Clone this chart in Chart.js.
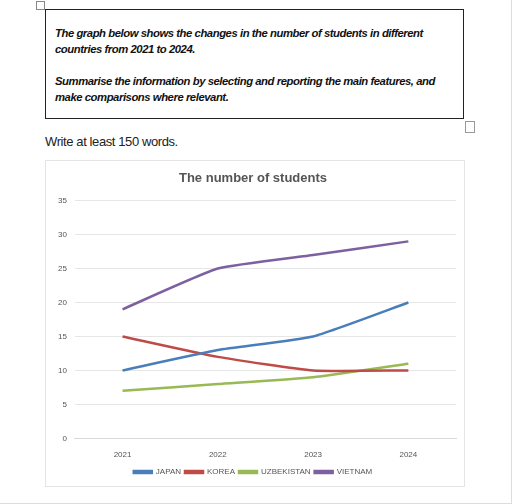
<!DOCTYPE html>
<html><head><meta charset="utf-8">
<script src="https://cdn.jsdelivr.net/npm/chart.js@4"></script>
<style>
body{margin:0;background:#fff;font-family:"Liberation Sans",Arial,sans-serif;width:512px;height:504px;position:relative;overflow:hidden}
#page{position:absolute;left:0;top:0;width:511px;height:503px;border-right:1px solid #ddd;border-bottom:1px solid #ddd}
#anchor{position:absolute;left:36px;top:1px;width:7px;height:7px;border:1px solid #888}
#task{position:absolute;left:45px;top:9px;width:408px;height:108px;border:1.5px solid #222;padding:0 0 0 9px;font-style:italic;font-weight:bold;font-size:11.3px;line-height:16px;color:#111;letter-spacing:-0.45px;white-space:nowrap}
#task p{margin:15px 0 0 0}
#task p+p{margin-top:16px}
#handle{position:absolute;left:465px;top:121px;width:8px;height:10px;border:1px solid #999}
#write{position:absolute;left:45px;top:134px;font-size:13px;letter-spacing:-0.4px;color:#222}
#box{position:absolute;left:45px;top:160px;width:420px;height:327px;border:1px solid #e4e4e4;box-sizing:border-box}
</style></head><body>
<div id="page"></div>
<div id="anchor"></div>
<div id="task"><p>The graph below shows the changes in the number of students in different<br>countries from 2021 to 2024.</p><p>Summarise the information by selecting and reporting the main features, and<br>make comparisons where relevant.</p></div>
<div id="handle"></div>
<div id="write">Write at least 150 words.</div>
<div id="box"><canvas id="c" width="418" height="325"></canvas></div>
<script>
const years = ['2021','2022','2023','2024'];
const japan = [10, 13, 15, 20];
const korea = [15, 12, 10, 10];
const uzbekistan = [7, 8, 9, 11];
const vietnam = [19, 25, 27, 29];

const ds = (label, data, color) => ({label, data, borderColor: color, backgroundColor: color, borderWidth: 2.5, pointRadius: 0, tension: 0.15});

new Chart(document.getElementById('c'), {
  type: 'line',
  data: {
    labels: years,
    datasets: [
      ds('JAPAN', japan, '#4a7ebb'),
      ds('KOREA', korea, '#be4b48'),
      ds('UZBEKISTAN', uzbekistan, '#98b954'),
      ds('VIETNAM', vietnam, '#7d60a0')
    ]
  },
  options: {
    responsive: false,
    animation: false,
    font: {family: 'Liberation Sans'},
    layout: {padding: {left: 4, right: 8, top: 4, bottom: 0}},
    plugins: {
      title: {display: true, text: 'The number of students', color: '#555', font: {size: 13, weight: 'bold', family: 'Liberation Sans'}, padding: {top: 6, bottom: 14}},
      legend: {position: 'bottom', labels: {boxWidth: 18, boxHeight: 2, color: '#555', font: {size: 8, family: 'Liberation Sans'}, padding: 4}},
      tooltip: {enabled: false}
    },
    scales: {
      x: {offset: true, grid: {display: false}, border: {color: '#d9d9d9'}, ticks: {color: '#555', font: {size: 8, family: 'Liberation Sans'}, padding: 4}},
      y: {min: 0, max: 35, ticks: {stepSize: 5, color: '#555', font: {size: 8, family: 'Liberation Sans'}, padding: 8}, grid: {color: '#e6e6e6', drawTicks: false}, border: {display: false}}
    }
  }
});
</script>
</body></html>
